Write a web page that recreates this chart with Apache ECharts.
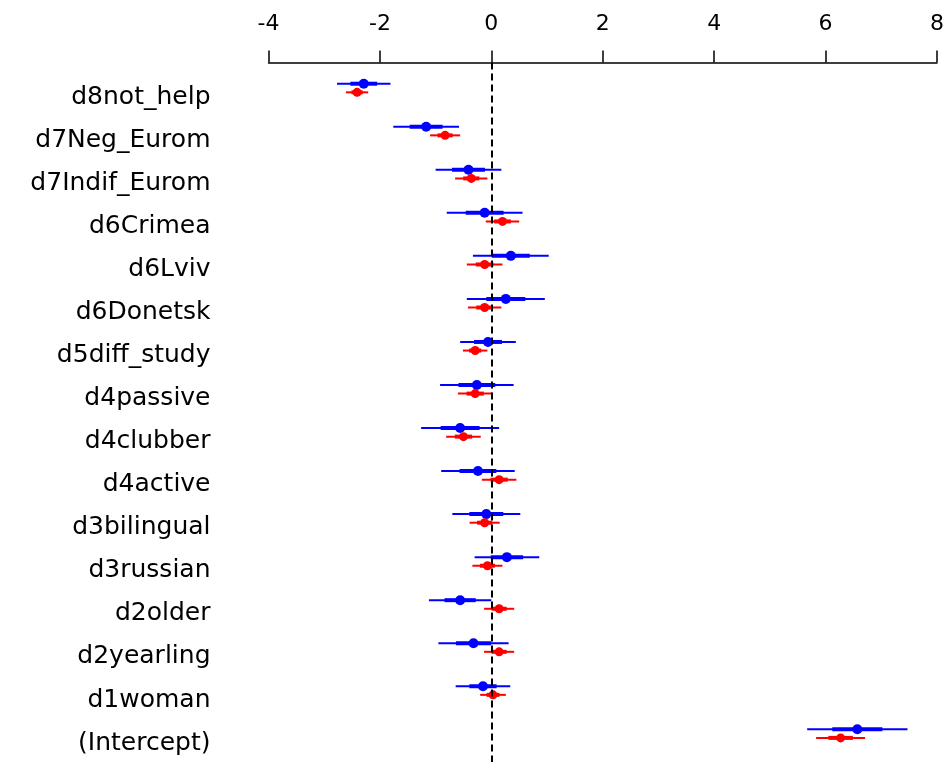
<!DOCTYPE html>
<html>
<head>
<meta charset="utf-8">
<title>coefplot</title>
<script src="https://cdn.jsdelivr.net/npm/echarts@6/dist/echarts.min.js"></script>
<style>
    html, body { margin: 0; padding: 0; background: #fff; }
    #main { width: 947px; height: 762px; }
</style>
</head>
<body>
<div id="main"></div>
<script>
    // 系数名称 (从上到下)
    var coefNames = ['d8not_help', 'd7Neg_Eurom', 'd7Indif_Eurom', 'd6Crimea', 'd6Lviv', 'd6Donetsk',
        'd5diff_study', 'd4passive', 'd4clubber', 'd4active', 'd3bilingual', 'd3russian',
        'd2older', 'd2yearling', 'd1woman', '(Intercept)'];
    // 模型1 (蓝)
    var blueMean = [-2.29, -1.17, -0.41, -0.12, 0.35, 0.26, -0.06, -0.26, -0.56, -0.24, -0.09, 0.28, -0.56, -0.32, -0.15, 6.57];
    var blueSe   = [0.24, 0.295, 0.295, 0.34, 0.34, 0.35, 0.25, 0.33, 0.35, 0.33, 0.305, 0.29, 0.28, 0.315, 0.245, 0.45];
    // 模型2 (红)
    var redMean  = [-2.41, -0.83, -0.36, 0.20, -0.12, -0.12, -0.29, -0.29, -0.50, 0.14, -0.12, -0.07, 0.14, 0.14, 0.03, 6.27];
    var redSe    = [0.10, 0.135, 0.145, 0.15, 0.16, 0.15, 0.11, 0.155, 0.155, 0.155, 0.135, 0.135, 0.135, 0.135, 0.115, 0.22];
    var xTicks = [-4, -2, 0, 2, 4, 6, 8];

    var rowIdx = coefNames.map(function (n, i) { return i; });
    var fontName = 'DejaVu Sans';

    function toData(mean, se) {
        return rowIdx.map(function (i) { return [i, mean[i], se[i]]; });
    }

    // 画 ±2se 细线, ±1se 粗线, 均值点
    function makeRender(color, shift, radius) {
        return function (params, api) {
            var row = api.value(0) + shift;
            var m = api.value(1), s = api.value(2);
            var o1 = api.coord([m - 2 * s, row]), o2 = api.coord([m + 2 * s, row]);
            var i1 = api.coord([m - s, row]), i2 = api.coord([m + s, row]);
            var c = api.coord([m, row]);
            return {
                type: 'group',
                children: [
                    { type: 'line', shape: { x1: o1[0], y1: o1[1], x2: o2[0], y2: o2[1] },
                      style: { stroke: color, lineWidth: 2 } },
                    { type: 'line', shape: { x1: i1[0], y1: i1[1], x2: i2[0], y2: i2[1] },
                      style: { stroke: color, lineWidth: 4 } },
                    { type: 'circle', shape: { cx: c[0], cy: c[1], r: radius },
                      style: { fill: color } }
                ]
            };
        };
    }

    var myChart = echarts.init(document.getElementById('main'));
    var option = {
        backgroundColor: '#fff',
        animation: false,
        grid: { left: 268.5, right: 10, top: 62.5, bottom: 0 },
        xAxis: {
            type: 'value',
            position: 'top',
            min: xTicks[0],
            max: xTicks[xTicks.length - 1],
            interval: 2,
            axisLine: { onZero: false, lineStyle: { color: '#000', width: 1.5 } },
            axisTick: { length: 12, lineStyle: { color: '#000', width: 1.5 } },
            axisLabel: { color: '#000', fontSize: 22, fontFamily: fontName, margin: 27 },
            splitLine: { show: false }
        },
        yAxis: {
            type: 'value',
            inverse: true,
            min: -0.813,
            max: 15.44,
            axisLine: { show: false },
            axisTick: { show: false },
            splitLine: { show: false },
            axisLabel: {
                customValues: rowIdx,
                formatter: function (v) { return coefNames[Math.round(v)]; },
                color: '#000',
                fontSize: 25,
                fontFamily: fontName,
                margin: 58
            }
        },
        series: [
            {
                type: 'line',
                data: [],
                markLine: {
                    silent: true,
                    symbol: 'none',
                    label: { show: false },
                    lineStyle: { color: '#000', type: [7, 4], width: 2 },
                    data: [{ xAxis: 0 }]
                }
            },
            {
                name: 'model1',
                type: 'custom',
                renderItem: makeRender('#0000ff', -0.32, 5),
                encode: { x: 1, y: 0 },
                data: toData(blueMean, blueSe)
            },
            {
                name: 'model2',
                type: 'custom',
                renderItem: makeRender('#ff0000', -0.12, 4.5),
                encode: { x: 1, y: 0 },
                data: toData(redMean, redSe)
            }
        ]
    };
    myChart.setOption(option);
</script>
</body>
</html>
